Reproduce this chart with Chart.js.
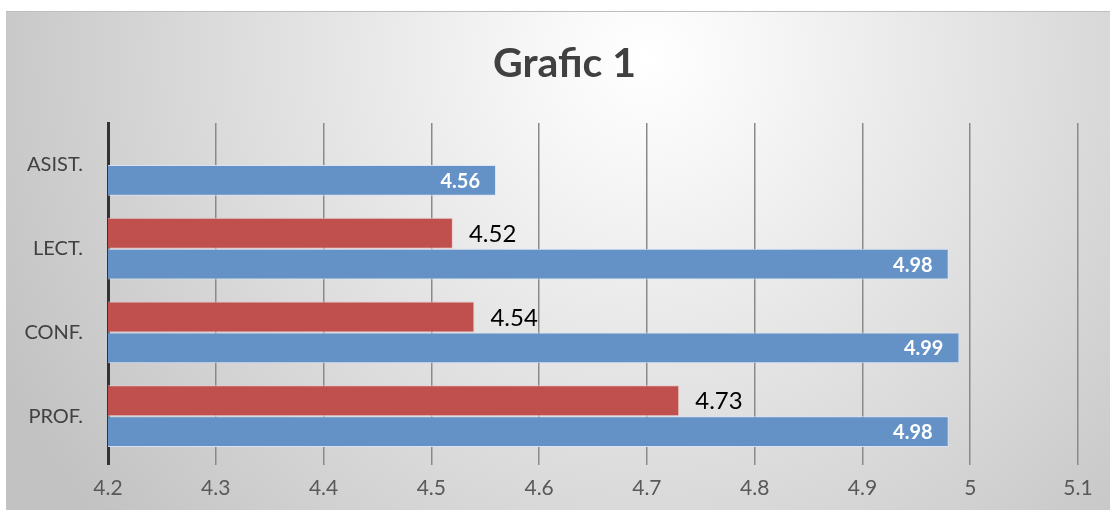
<!DOCTYPE html>
<html>
<head>
<meta charset="utf-8">
<script src="https://cdn.jsdelivr.net/npm/chart.js@4/dist/chart.umd.min.js"></script>
<style>
  html, body { margin: 0; padding: 0; background: #ffffff; }
  #wrap { position: absolute; left: 6px; top: 11px; width: 1104px; height: 499px; border-top: 1px solid #bdbdbd; box-sizing: border-box; }
  canvas { display: block; }
</style>
</head>
<body>
<div id="wrap"><canvas id="c"></canvas></div>
<script>
const categories = ['ASIST.', 'LECT.', 'CONF.', 'PROF.'];
const redValues  = [null, 4.52, 4.54, 4.73];
const blueValues = [4.56, 4.98, 4.99, 4.98];
const xTicks = [4.2, 4.3, 4.4, 4.5, 4.6, 4.7, 4.8, 4.9, 5, 5.1];
const chartTitle = 'Grafic 1';

const bgPlugin = {
  id: 'bg',
  beforeDraw(chart) {
    const ctx = chart.ctx, w = chart.width, h = chart.height;
    ctx.save();
    const g = ctx.createRadialGradient(w * 0.58, 45, 0, w * 0.58, 45, 720);
    g.addColorStop(0, '#ffffff');
    g.addColorStop(0.15, '#f7f7f7');
    g.addColorStop(1, '#c2c2c2');
    ctx.fillStyle = g;
    ctx.fillRect(0, 0, w, h);
    ctx.restore();
  },
  afterDraw(chart) {
    const ctx = chart.ctx;
    ctx.save();
    ctx.font = 'bold 41px Lato';
    ctx.fillStyle = '#404040';
    ctx.textAlign = 'center';
    ctx.textBaseline = 'alphabetic';
    ctx.fillText(chartTitle, 558.5, 65);
    ctx.restore();
  }
};

const labelPlugin = {
  id: 'barLabels',
  afterDatasetsDraw(chart) {
    const ctx = chart.ctx;
    ctx.save();
    ctx.textBaseline = 'middle';
    chart.data.datasets.forEach((ds, di) => {
      const meta = chart.getDatasetMeta(di);
      meta.data.forEach((bar, i) => {
        const v = ds.data[i];
        if (v === null || v === undefined) return;
        const txt = v.toFixed(2);
        if (di === 1) {
          ctx.font = 'bold 20px Lato';
          ctx.fillStyle = '#ffffff';
          ctx.textAlign = 'right';
          ctx.fillText(txt, bar.x - 16, bar.y + 1);
        } else {
          ctx.font = '24px Lato';
          ctx.fillStyle = '#000000';
          ctx.textAlign = 'left';
          ctx.fillText(txt, bar.x + 16, bar.y + 1);
        }
      });
    });
    ctx.restore();
  }
};

new Chart(document.getElementById('c'), {
  type: 'bar',
  data: {
    labels: categories,
    datasets: [
      { label: 'Serie 2', data: redValues, backgroundColor: 'rgb(192,80,77)', borderColor: 'rgba(235,200,200,0.9)', borderWidth: 1, borderSkipped: 'start' },
      { label: 'Serie 1', data: blueValues, backgroundColor: 'rgb(101,146,198)', borderColor: 'rgba(215,228,245,0.95)', borderWidth: 1, borderSkipped: 'start' }
    ]
  },
  options: {
    indexAxis: 'y',
    responsive: true,
    maintainAspectRatio: false,
    animation: false,
    devicePixelRatio: 1,
    categoryPercentage: 0.74,
    barPercentage: 1.0,
    layout: { padding: { left: 0, right: 32, top: 111, bottom: 0 } },
    plugins: {
      legend: { display: false },
      tooltip: { enabled: false },
      title: { display: false }
    },
    scales: {
      x: {
        type: 'linear',
        min: 4.2,
        max: 5.1,
        afterBuildTicks(scale) { scale.ticks = xTicks.map(v => ({ value: v })); },
        afterFit(scale) { scale.height = 52; },
        ticks: {
          color: '#595959',
          font: { family: 'Lato', size: 21 },
          padding: 11,
          callback: v => String(Math.round(v * 10) / 10)
        },
        grid: {
          color: ctx => ctx.index === 0 ? '#333333' : '#8a8a8a',
          lineWidth: ctx => ctx.index === 0 ? 3 : 1.5,
          drawTicks: true,
          tickLength: 7
        },
        border: { display: false }
      },
      y: {
        afterFit(scale) { scale.width = 102; },
        ticks: { color: '#404040', font: { family: 'Lato', size: 20 }, padding: 17 },
        grid: { display: false },
        border: { display: true, color: '#333333', width: 3 }
      }
    }
  },
  plugins: [bgPlugin, labelPlugin]
});
</script>
</body>
</html>
